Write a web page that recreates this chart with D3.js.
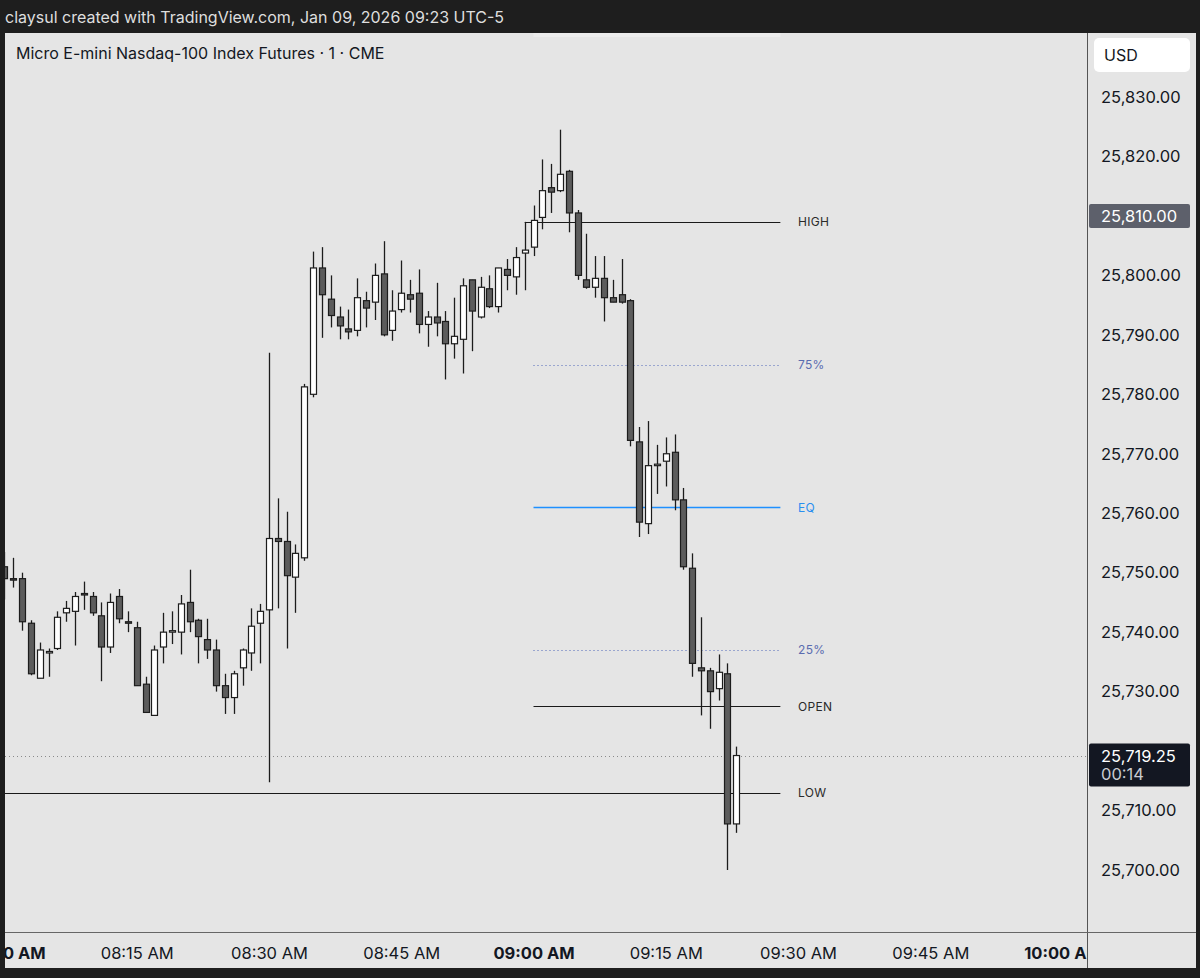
<!DOCTYPE html>
<html><head><meta charset="utf-8">
<script src="https://cdn.jsdelivr.net/npm/d3@7"></script>
<style>body{margin:0;background:#1e1e1e;overflow:hidden}svg{display:block}</style>
</head><body>
<svg id="c" width="1200" height="978"></svg>
<script>
// ---------- DATA ----------
const times = ["08:00","08:01","08:02","08:03","08:04","08:05","08:06","08:07","08:08","08:09",
"08:10","08:11","08:12","08:13","08:14","08:15","08:16","08:17","08:18","08:19",
"08:20","08:21","08:22","08:23","08:24","08:25","08:26","08:27","08:28","08:29",
"08:30","08:31","08:32","08:33","08:34","08:35","08:36","08:37","08:38","08:39",
"08:40","08:41","08:42","08:43","08:44","08:45","08:46","08:47","08:48","08:49",
"08:50","08:51","08:52","08:53","08:54","08:55","08:56","08:57","08:58","08:59",
"09:00","09:01","09:02","09:03","09:04","09:05","09:06","09:07","09:08","09:09",
"09:10","09:11","09:12","09:13","09:14","09:15","09:16","09:17","09:18","09:19",
"09:20","09:21","09:22","09:23"];
const opens = [25751,25749,25749,25741.5,25732.25,25736.5,25737.25,25743.25,25743.5,25746.5,
25746,25742.75,25737.5,25746,25741.75,25740.75,25731.25,25726,25737.5,25740,
25740,25745,25742,25738.75,25737,25731,25729,25734,25736.5,25741.5,
25743.75,25755.75,25755.25,25749.25,25752.5,25780,25801.25,25796,25793,25791,
25790.75,25795.75,25795.5,25800.25,25790.75,25794.25,25796.75,25797,25791.75,25793,
25792.25,25788.5,25789.25,25799.25,25793,25797.75,25794.75,25801,25799.75,25803.75,
25804.75,25809.75,25814.75,25814.25,25817.5,25810.5,25799.25,25798,25799.5,25796.25,
25796.75,25795.75,25772,25758.25,25768,25768.75,25770.25,25762.25,25750.75,25734,
25733.5,25730.5,25733,25707.75];
const highs = [25753.5,25752.5,25750,25742,25738.25,25737.25,25743.5,25745.25,25746.75,25748.5,
25746.75,25745,25746.5,25747.25,25743.5,25741.75,25732.5,25737.75,25743.25,25743.5,
25746.25,25750.5,25742.25,25742.25,25738.75,25733,25733.5,25737.25,25744,25744.75,
25787,25762.5,25760.25,25754.75,25781.75,25804,25804.75,25800,25794.75,25794.25,
25799.5,25797.25,25802,25805.75,25797.5,25802.5,25799.25,25801,25794,25798.75,
25794,25796.25,25799.5,25799.25,25799.75,25800,25801.25,25802.75,25804.75,25809,
25811.75,25819.5,25818.75,25824.5,25817.75,25811,25807,25803.25,25803.25,25799.25,
25802.75,25796,25774.5,25775.5,25771.5,25772.75,25773.25,25764.25,25753.25,25742.5,
25734,25736.25,25734.75,25720.75];
const lows = [25745.5,25747.5,25740.25,25732.75,25732.25,25732.5,25737,25741.75,25737.75,25743.75,
25742.75,25731.75,25736.5,25741.5,25740,25731,25726.5,25726,25734.75,25738,
25736.25,25740,25734.75,25735.5,25730,25726.25,25726.25,25731,25733.5,25734.75,
25714.75,25744,25737.25,25743.25,25752,25779.5,25789.5,25791.25,25789.25,25789.25,
25789.75,25791.25,25792.5,25789.75,25789,25793.75,25793.75,25790.25,25788,25789.75,
25782.5,25786,25783.5,25787.25,25792.75,25794.5,25793.75,25797.5,25796.75,25797.5,
25803.25,25807.75,25810.5,25814,25807.25,25799.25,25797.75,25796.25,25792.25,25795.5,
25795.25,25771.25,25756,25756.5,25763.25,25764.5,25760.5,25750.5,25732.5,25726,
25723.75,25728.5,25700,25706.25];
const closes = [25749,25748.75,25741.75,25733,25737,25736.75,25742.5,25744,25746,25746.25,
25743.25,25737.5,25745,25742.25,25741.5,25731,25726.5,25737,25740,25740.25,
25744.75,25741.75,25739.25,25737,25731,25729,25733,25737,25741,25743.5,
25755.75,25755.25,25749.5,25753.25,25781.25,25801.25,25796.75,25793.25,25791.5,25790.5,
25796.25,25794.5,25800,25790,25794,25797,25796,25791.75,25793,25792,
25788.5,25789.75,25798.25,25794,25798,25794.75,25801.25,25800,25803,25804.25,
25809.25,25814.25,25814,25817,25810.5,25800,25798,25799.5,25796.25,25795.5,
25795.5,25772.25,25758.5,25768,25768.25,25770,25762.25,25751,25734.75,25733.5,
25730,25733.25,25707.75,25719.25];

const priceTicks = [25700,25710,25730,25740,25750,25760,25770,25780,25790,25800,25810,25820,25830];
const timeTicks = ["08:00","08:15","08:30","08:45","09:00","09:15","09:30","09:45","10:00"];
const boldTimeTicks = ["08:00","09:00","10:00"];

const levelNames  = ["HIGH","75%","EQ","25%","OPEN","LOW"];
const levelValues = [25809,25785,25761,25737,25727.5,25713];
const levelStarts = ["08:59","09:00","09:00","09:00","09:00","07:30"];
const levelEnd = "09:28";
const levelLabelTime = "09:30";
const levelColors = ["#1a1a1a","#4f66b8","#1e90ff","#4f66b8","#1a1a1a","#1a1a1a"];
const levelLabelColors = ["#2a2a2a","#5a6cb0","#2a8ff0","#5a6cb0","#2a2a2a","#2a2a2a"];
const levelDash = ["none","1,3","none","1,3","none","none"];

const lastPrice = 25719.25;
const countdown = "00:14";
const markedPrice = 25810;
const headerText = "claysul created with TradingView.com, Jan 09, 2026 09:23 UTC-5";
const titleText = "Micro E-mini Nasdaq-100 Index Futures · 1 · CME";
const currencyText = "USD";

// ---------- SCALES ----------
const parse = d3.timeParse("%H:%M");
const x = d3.scaleTime().domain([parse("08:01"), parse("09:23")]).range([13.3, 736.3]);
const y = d3.scaleLinear().domain([25700, 25830]).range([870, 97]);

const FONT = "Inter, 'Noto Sans', sans-serif";
const svg = d3.select("#c");
const W = 1200, H = 978;
const paneL = 5, paneR = 1087, paneT = 33, paneB = 932, outerR = 1196, outerB = 968;

svg.append("rect").attr("width", W).attr("height", H).attr("fill", "#1e1e1e");
svg.append("rect").attr("x", paneL).attr("y", paneT).attr("width", outerR - paneL).attr("height", outerB - paneT).attr("fill", "#e5e5e5");

// header
svg.append("text").attr("x", 5).attr("y", 17).attr("dominant-baseline", "central")
  .attr("font-family", FONT).attr("font-size", 16).attr("fill", "#dedede").text(headerText);

const defs = svg.append("defs");
defs.append("clipPath").attr("id", "plotClip").append("rect")
  .attr("x", paneL).attr("y", paneT).attr("width", paneR - paneL).attr("height", paneB - paneT);
defs.append("clipPath").attr("id", "timeClip").append("rect")
  .attr("x", paneL).attr("y", paneB).attr("width", paneR - paneL).attr("height", outerB - paneB);

const plot = svg.append("g").attr("clip-path", "url(#plotClip)");

// top highlight strip
plot.append("rect").attr("x", x(parse("09:00"))).attr("y", paneT)
  .attr("width", x(parse(levelEnd)) - x(parse("09:00"))).attr("height", 4).attr("fill", "#ececec");

// current price dotted line
plot.append("line").attr("x1", paneL).attr("x2", paneR)
  .attr("y1", Math.round(y(lastPrice)) + 0.5).attr("y2", Math.round(y(lastPrice)) + 0.5)
  .attr("stroke", "#8a8a8a").attr("stroke-dasharray", "1,3");

// levels
const levels = levelNames.map((n, i) => ({name: n, v: levelValues[i], s: levelStarts[i], c: levelColors[i], lc: levelLabelColors[i], d: levelDash[i]}));
plot.selectAll("line.level").data(levels).join("line").attr("class", "level")
  .attr("x1", d => x(parse(d.s))).attr("x2", x(parse(levelEnd)))
  .attr("y1", d => Math.round(y(d.v)) + 0.5).attr("y2", d => Math.round(y(d.v)) + 0.5)
  .attr("stroke", d => d.c).attr("stroke-width", d => d.name === "EQ" ? 1.6 : 1)
  .attr("stroke-dasharray", d => d.d);
plot.selectAll("text.level").data(levels).join("text").attr("class", "level")
  .attr("x", x(parse(levelLabelTime))).attr("y", d => y(d.v)).attr("dominant-baseline", "central")
  .attr("font-family", FONT).attr("font-size", 12).attr("letter-spacing", 0.3)
  .attr("fill", d => d.lc).text(d => d.name);

// candles
const candles = times.map((t, i) => ({t: parse(t), o: opens[i], h: highs[i], l: lows[i], c: closes[i]}));
const cg = plot.selectAll("g.candle").data(candles).join("g").attr("class", "candle");
cg.append("line")
  .attr("x1", d => Math.round(x(d.t)) + 0.5).attr("x2", d => Math.round(x(d.t)) + 0.5)
  .attr("y1", d => y(d.h)).attr("y2", d => y(d.l))
  .attr("stroke", "#1c1c1c").attr("stroke-width", 1.3);
cg.append("rect")
  .attr("x", d => Math.round(x(d.t)) - 2.5).attr("width", 6)
  .attr("y", d => y(Math.max(d.o, d.c)))
  .attr("height", d => Math.max(0.8, Math.abs(y(d.o) - y(d.c))))
  .attr("fill", d => d.c >= d.o ? "#ffffff" : "#5c5c5c")
  .attr("stroke", "#1c1c1c").attr("stroke-width", 1.2);

// separators
svg.append("line").attr("x1", paneR + 0.5).attr("x2", paneR + 0.5).attr("y1", paneT).attr("y2", outerB)
  .attr("stroke", "#555").attr("stroke-width", 1);
svg.append("line").attr("x1", paneL).attr("x2", outerR).attr("y1", paneB + 0.5).attr("y2", paneB + 0.5)
  .attr("stroke", "#666").attr("stroke-width", 1);

// title
svg.append("text").attr("x", 16).attr("y", 53).attr("dominant-baseline", "central")
  .attr("font-family", FONT).attr("font-size", 16).attr("fill", "#131722").text(titleText);

// price axis
const yAxis = d3.axisRight(y).tickValues(priceTicks).tickFormat(d3.format(",.2f")).tickSize(0).tickPadding(13);
const ya = svg.append("g").attr("transform", `translate(${paneR + 1},0)`).call(yAxis);
ya.select(".domain").remove();
ya.selectAll("text").attr("font-family", FONT).attr("font-size", 16.5).attr("fill", "#131722");

// USD box
svg.append("rect").attr("x", 1094).attr("y", 38).attr("width", 96).attr("height", 34).attr("rx", 5).attr("fill", "#ffffff");
svg.append("text").attr("x", 1104).attr("y", 55).attr("dominant-baseline", "central")
  .attr("font-family", FONT).attr("font-size", 16).attr("fill", "#131722").text(currencyText);

// marked price label
svg.append("rect").attr("x", paneR + 2).attr("y", y(markedPrice) - 12).attr("width", 101).attr("height", 24).attr("rx", 2).attr("fill", "#5d606b");
svg.append("text").attr("x", 1101).attr("y", y(markedPrice)).attr("dominant-baseline", "central")
  .attr("font-family", FONT).attr("font-size", 16.5).attr("fill", "#ffffff").text(d3.format(",.2f")(markedPrice));

// last price label
svg.append("rect").attr("x", paneR + 2).attr("y", y(lastPrice) - 12).attr("width", 101).attr("height", 43).attr("rx", 2).attr("fill", "#131722");
svg.append("text").attr("x", 1101).attr("y", y(lastPrice)).attr("dominant-baseline", "central")
  .attr("font-family", FONT).attr("font-size", 16.5).attr("fill", "#ffffff").text(d3.format(",.2f")(lastPrice));
svg.append("text").attr("x", 1101).attr("y", y(lastPrice) + 18).attr("dominant-baseline", "central")
  .attr("font-family", FONT).attr("font-size", 16.5).attr("fill", "#c9cbd1").text(countdown);

// time axis
const xAxis = d3.axisBottom(x).tickValues(timeTicks.map(parse)).tickFormat(d3.timeFormat("%I:%M %p")).tickSize(0);
const xa = svg.append("g").attr("clip-path", "url(#timeClip)").append("g")
  .attr("transform", `translate(0,${paneB})`).call(xAxis);
xa.select(".domain").remove();
xa.selectAll("text").attr("y", 21).attr("dy", "0.35em")
  .attr("font-family", FONT).attr("font-size", 16.5).attr("fill", "#131722")
  .attr("font-weight", d => boldTimeTicks.includes(d3.timeFormat("%H:%M")(d)) ? 700 : 400);
</script>
</body></html>
